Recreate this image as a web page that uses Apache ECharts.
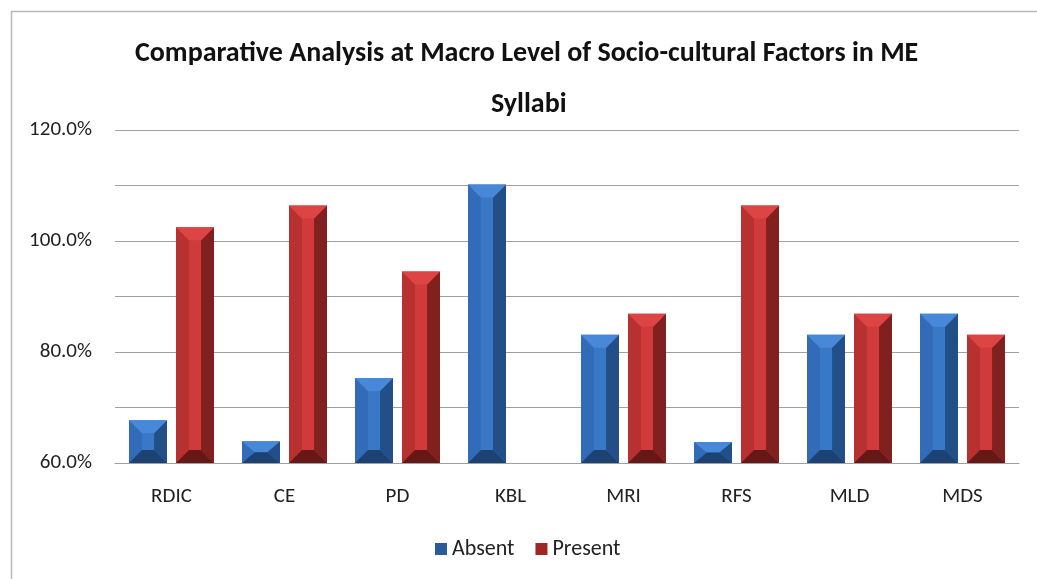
<!DOCTYPE html>
<html>
<head>
<meta charset="utf-8">
<script src="https://cdn.jsdelivr.net/npm/echarts@6/dist/echarts.min.js"></script>
<style>
html,body{margin:0;padding:0;background:#fff;}
#chart{width:1037px;height:579px;}
</style>
</head>
<body>
<div id="chart"></div>
<script>
var categories = ['RDIC', 'CE', 'PD', 'KBL', 'MRI', 'RFS', 'MLD', 'MDS'];
var absentValues = [67.7, 63.9, 75.3, 110.2, 83.1, 63.8, 83.1, 86.9];
var presentValues = [102.5, 106.4, 94.5, null, 86.9, 106.4, 86.9, 83.1];
var yTicks = [60, 80, 100, 120];
var titleLines = ['Comparative Analysis at Macro Level of Socio-cultural Factors in ME', 'Syllabi'];

var FONT = 'Carlito, "Open Sans", sans-serif';

var palettes = {
  Absent: {face: '#3878c6', top: '#4888d8', left: '#326cb8', right: '#234f88', bottom: '#1c4274', legend: '#2a5a9c'},
  Present: {face: '#d03a3a', top: '#dd4545', left: '#b83131', right: '#80201f', bottom: '#661817', legend: '#a02525'}
};

function makeRender(side, pal) {
  return function (params, api) {
    var v = api.value(1);
    if (v == null || isNaN(v)) return null;
    var band = api.size([1, 0])[0];
    var barW = band * 38 / 113;
    var gap = band * 9 / 113;
    var base = api.coord([api.value(0), 60]);
    var topP = api.coord([api.value(0), v]);
    var cx = base[0] + side * (barW / 2 + gap / 2);
    var x0 = cx - barW / 2, x1 = cx + barW / 2;
    var y0 = topP[1], y1 = base[1];
    var h = y1 - y0;
    var bh = Math.min(barW * 0.34, barW / 2);
    var bv = Math.min(13, h / 2);
    function poly(pts, c) {
      return {type: 'polygon', shape: {points: pts}, style: {fill: c}};
    }
    return {
      type: 'group',
      children: [
        {type: 'rect', shape: {x: x0, y: y0, width: barW, height: h}, style: {fill: pal.face}},
        poly([[x0, y0], [x0 + bh, y0 + bv], [x0 + bh, y1 - bv], [x0, y1]], pal.left),
        poly([[x1, y0], [x1 - bh, y0 + bv], [x1 - bh, y1 - bv], [x1, y1]], pal.right),
        poly([[x0, y0], [x1, y0], [x1 - bh, y0 + bv], [x0 + bh, y0 + bv]], pal.top),
        poly([[x0, y1], [x1, y1], [x1 - bh, y1 - bv], [x0 + bh, y1 - bv]], pal.bottom)
      ]
    };
  };
}

function toData(vals) {
  return vals.map(function (v, i) { return [i, v == null ? '-' : v]; });
}

var titleStyle = {
  fontFamily: FONT,
  fontSize: 28,
  fontWeight: 'bold',
  color: '#111',
  lineHeight: 53
};

var chart = echarts.init(document.getElementById('chart'));
chart.setOption({
  animation: false,
  backgroundColor: '#ffffff',
  title: [
    {text: titleLines[0], left: 130, top: 22, textStyle: titleStyle},
    {text: titleLines[1], left: 486, top: 73, textStyle: titleStyle}
  ],
  legend: {
    top: 533,
    left: 430,
    icon: 'rect',
    itemWidth: 12,
    itemHeight: 12,
    itemGap: 21,
    textStyle: {fontFamily: FONT, fontSize: 22, color: '#222'},
    data: ['Absent', 'Present']
  },
  grid: {left: 115, right: 18, top: 130, bottom: 116, containLabel: false},
  xAxis: {
    type: 'category',
    data: categories,
    axisLine: {show: true, lineStyle: {color: '#a0a0a0', width: 1.2}},
    axisTick: {show: false},
    axisLabel: {fontFamily: FONT, fontSize: 21, color: '#222', margin: 23}
  },
  yAxis: {
    type: 'value',
    min: 60,
    max: 120,
    interval: 10,
    axisLine: {show: false},
    axisTick: {show: false},
    splitLine: {lineStyle: {color: '#a0a0a0', width: 1.2}},
    axisLabel: {
      fontFamily: FONT, fontSize: 21, color: '#222', margin: 23,
      formatter: function (v) { return yTicks.indexOf(v) >= 0 ? v.toFixed(1) + '%' : ''; }
    }
  },
  series: [
    {
      name: 'Absent', type: 'custom', renderItem: makeRender(-1, palettes.Absent),
      encode: {x: 0, y: 1}, data: toData(absentValues),
      itemStyle: {color: palettes.Absent.legend}
    },
    {
      name: 'Present', type: 'custom', renderItem: makeRender(1, palettes.Present),
      encode: {x: 0, y: 1}, data: toData(presentValues),
      itemStyle: {color: palettes.Present.legend}
    }
  ],
  graphic: [
    {type: 'rect', left: 9, top: 9, shape: {width: 1040, height: 590}, style: {fill: 'none', stroke: '#b8b8b8', lineWidth: 1.5}, silent: true}
  ]
});
</script>
</body>
</html>
